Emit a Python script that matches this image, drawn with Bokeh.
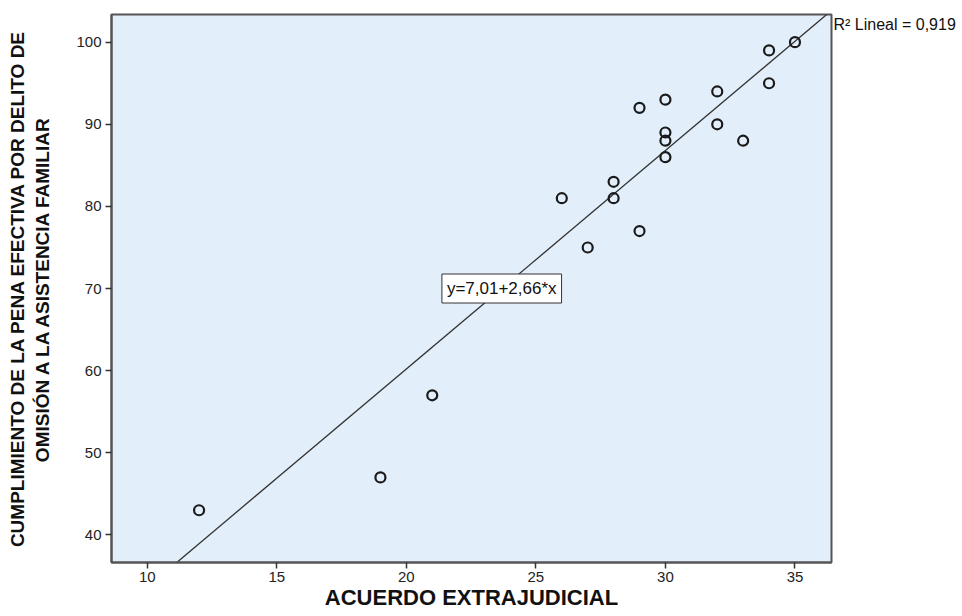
import numpy as np
from bokeh.plotting import figure
from bokeh.models import Range1d, Label, FixedTicker, LinearAxis
from bokeh.embed import file_html
from bokeh.resources import INLINE

# ---- data ----
acuerdo = [12, 19, 21, 26, 27, 28, 28, 29, 29, 30, 30, 30, 30, 32, 32, 33, 34, 34, 35]
cumplimiento = [43, 47, 57, 81, 75, 83, 81, 92, 77, 93, 89, 88, 86, 94, 90, 88, 99, 95, 100]
x_ticks = [10, 15, 20, 25, 30, 35]
y_ticks = [40, 50, 60, 70, 80, 90, 100]
intercept = 7.01
slope = 2.66
r2_text = "R² Lineal = 0,919"
eq_text = "y=7,01+2,66*x"
x_title = "ACUERDO EXTRAJUDICIAL"
y_title = "CUMPLIMIENTO DE LA PENA EFECTIVA POR DELITO DE\nOMISIÓN A LA ASISTENCIA FAMILIAR"
x_lim = (8.62, 36.41)
y_lim = (36.64, 103.37)

FONT = "Liberation Sans"

p = figure(width=960, height=614,
           x_range=Range1d(*x_lim), y_range=Range1d(*y_lim),
           output_backend="svg", toolbar_location=None,
           min_border_left=111, min_border_top=14,
           min_border_right=129, min_border_bottom=52)

p.background_fill_color = "#E2EEFA"
p.border_fill_color = "white"
p.outline_line_color = "#555555"
p.outline_line_width = 2
p.grid.visible = False

for ax in (p.xaxis[0], p.yaxis[0]):
    ax.axis_line_color = "#555555"
    ax.axis_line_width = 2
    ax.major_tick_line_color = "#333333"
    ax.major_tick_line_width = 1.5
    ax.major_tick_out = 6
    ax.major_tick_in = 0
    ax.minor_tick_line_color = None
    ax.major_label_text_font = FONT
    ax.major_label_text_font_size = "15px"
    ax.major_label_text_color = "#222222"
    ax.axis_label_text_font = FONT
    ax.axis_label_text_font_style = "bold"
    ax.axis_label_text_color = "#111111"

p.xaxis[0].ticker = FixedTicker(ticks=x_ticks)
p.yaxis[0].ticker = FixedTicker(ticks=y_ticks)
p.xaxis[0].axis_label = x_title
p.yaxis[0].axis_label = y_title
p.xaxis[0].axis_label_text_font_size = "22px"
p.yaxis[0].axis_label_text_font_size = "19px"
p.xaxis[0].major_label_standoff = 3
p.xaxis[0].axis_label_standoff = 0
p.yaxis[0].major_label_standoff = 4
p.yaxis[0].axis_label_standoff = 20

# right-side annotation axis carrying the R² text
r_axis = LinearAxis(ticker=FixedTicker(ticks=[102.2]),
                    major_label_overrides={102.2: r2_text})
r_axis.axis_line_color = None
r_axis.major_tick_line_color = None
r_axis.major_tick_out = 0
r_axis.major_tick_in = 0
r_axis.minor_tick_line_color = None
r_axis.major_label_standoff = 2
r_axis.major_label_text_font = FONT
r_axis.major_label_text_font_size = "16px"
r_axis.major_label_text_color = "#111111"
p.add_layout(r_axis, "right")

# regression line
xs = np.array(x_lim)
ys = intercept + slope * xs
p.line(xs, ys, line_color="#333333", line_width=1.3)

# points
p.scatter(acuerdo, cumplimiento, marker="circle", size=10,
          fill_color=None, line_color="#1a1a1a", line_width=2.2)

# equation label at midpoint of visible fit segment
x_lo = max(x_lim[0], (y_lim[0] - intercept) / slope)
x_hi = min(x_lim[1], (y_lim[1] - intercept) / slope)
xm = (x_lo + x_hi) / 2
p.add_layout(Label(x=xm, y=intercept + slope * xm, text=eq_text,
                   text_align="center", text_baseline="middle",
                   text_font=FONT, text_font_size="17px", text_color="#111111",
                   background_fill_color="white", border_line_color="#333333",
                   border_line_width=1, padding=5))

open("out.html", "w").write(file_html(p, INLINE))
